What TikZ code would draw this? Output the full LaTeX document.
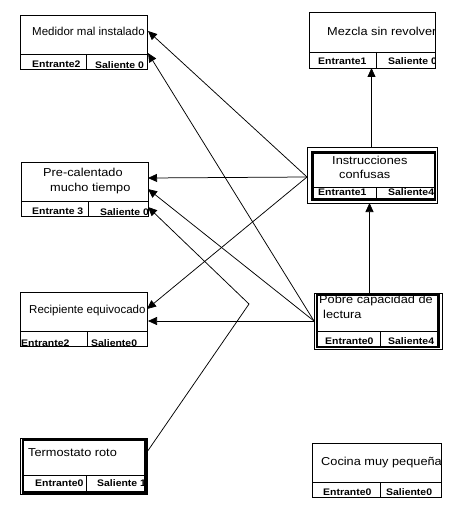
\documentclass[tikz,border=0pt]{standalone}
\usepackage{fontspec}
\setmainfont{Liberation Sans}
\newfontfamily\widefont[FakeStretch=1.11]{Liberation Sans}
\newfontfamily\labfont[FakeStretch=1.1]{Liberation Sans}
\usetikzlibrary{arrows.meta}
\tikzset{
  frame/.style={draw, line width=0.8pt, inner sep=0pt, outer sep=0pt},
  heavy/.style={draw, line width=2.6pt},
  rule/.style={draw, line width=0.8pt},
  txt/.style={anchor=base west, inner sep=0pt, font=\fontsize{11.5}{13}\selectfont},
  wtxt/.style={anchor=base west, inner sep=0pt, font=\widefont\fontsize{11.5}{13}\selectfont},
  lab/.style={anchor=base west, inner sep=0pt, font=\labfont\bfseries\fontsize{9.5}{10}\selectfont},
  link/.style={line width=0.75pt, -{Triangle[length=9pt,width=8pt]}},
}
\begin{document}
\begin{tikzpicture}[x=1pt,y=-1pt]
\useasboundingbox[fill=white] (0,0) rectangle (456,508);

% ---------- Medidor mal instalado ----------
\begin{scope}
\clip (20,15) rectangle (147,69);
\node[txt] (t1) at (32,36) {Medidor mal instalado};
\node[lab] (l1a) at (32,68) {Entrante2};
\node[lab] (l1b) at (95,69) {Saliente 0};
\end{scope}
\node[frame, minimum width=127pt, minimum height=54pt] (med) at (83.5,42) {};
\draw[rule] (20,54) -- (147,54) (86,54) -- (86,69);

% ---------- Mezcla sin revolver ----------
\begin{scope}
\clip (309,12) rectangle (435,68);
\node[wtxt] (t2) at (327,36) {Mezcla sin revolver};
\node[lab] (l2a) at (318,65) {Entrante1};
\node[lab] (l2b) at (388,65) {Saliente 0};
\end{scope}
\node[frame, minimum width=126pt, minimum height=56pt] (mez) at (372,40) {};
\draw[rule] (309,52) -- (435,52) (376,52) -- (376,68);

% ---------- Pre-calentado mucho tiempo ----------
\begin{scope}
\clip (21,162) rectangle (148,216);
\node[wtxt] (t3a) at (43,176) {Pre-calentado};
\node[wtxt] (t3b) at (50,191.5) {mucho tiempo};
\node[lab] (l3a) at (32,214) {Entrante 3};
\node[lab] (l3b) at (100,215) {Saliente 0};
\end{scope}
\node[frame, minimum width=127pt, minimum height=54pt] (pre) at (84.5,189) {};
\draw[rule] (21,201) -- (148,201) (88,201) -- (88,216);

% ---------- Instrucciones confusas ----------
\begin{scope}
\clip (312.5,152.5) rectangle (435,199.5);
\node[wtxt] (t4a) at (332,164.3) {Instrucciones};
\node[wtxt] (t4b) at (339,178.3) {confusas};
\node[lab] (l4a) at (318,195.7) {Entrante1};
\node[lab] (l4b) at (388,195.7) {Saliente4};
\end{scope}
\node[frame, minimum width=130pt, minimum height=56pt] (ins) at (372,175) {};
\draw[heavy] (312.5,152.5) rectangle (435,199.5);
\draw[rule] (312.5,187) -- (435,187) (376,187) -- (376,199.5);

% ---------- Recipiente equivocado ----------
\begin{scope}
\clip (18,292) rectangle (147,346);
\node[txt] (t5) at (29,313.3) {Recipiente equivocado};
\node[lab] (l5a) at (21,346) {Entrante2};
\node[lab] (l5b) at (91,346) {Saliente0};
\end{scope}
\node[frame, minimum width=127pt, minimum height=54pt] (rec) at (83.5,319) {};
\draw[rule] (20,331) -- (147,331) (87,331) -- (87,346);

% ---------- Pobre capacidad de lectura ----------
\begin{scope}
\clip (317,295) rectangle (438.5,347);
\node[wtxt] (t6a) at (319,303.3) {Pobre capacidad de};
\node[wtxt] (t6b) at (323,318.3) {lectura};
\node[lab] (l6a) at (325,344) {Entrante0};
\node[lab] (l6b) at (388,344) {Saliente4};
\end{scope}
\node[frame, minimum width=128pt, minimum height=56pt] (pob) at (378,321) {};
\draw[heavy] (317,295) rectangle (438.5,347);
\draw[rule] (317,331) -- (438.5,331) (380,331) -- (380,347);

% ---------- Termostato roto ----------
\begin{scope}
\clip (23,440) rectangle (145.5,492.5);
\node[wtxt] (t7) at (28,456.7) {Termostato roto};
\node[lab] (l7a) at (35,486.5) {Entrante0};
\node[lab] (l7b) at (97,486) {Saliente 1};
\end{scope}
\node[frame, minimum width=127pt, minimum height=56pt] (ter) at (84,466) {};
\draw[heavy] (23,440) rectangle (145.5,492.5);
\draw[rule] (23,475) -- (148,475) (86,475) -- (86,492.5);

% ---------- Cocina muy pequeña ----------
\begin{scope}
\clip (312,443) rectangle (441,497);
\node[wtxt] (t8) at (321,465) {Cocina muy pequeña};
\node[lab] (l8a) at (323,495) {Entrante0};
\node[lab] (l8b) at (386,495) {Saliente0};
\end{scope}
\node[frame, minimum width=129pt, minimum height=54pt] (coc) at (376.5,470) {};
\draw[rule] (312,482) -- (441,482) (380,482) -- (380,497);

% ---------- ports ----------
\coordinate (insT) at (371.5,147);
\coordinate (mezB) at (371.5,68);
\coordinate (pobT) at (369.5,293);
\coordinate (insB) at (369.5,203);
\coordinate (insL) at (307,177);
\coordinate (pobL) at (314,321);
\coordinate (medA) at (148,31);
\coordinate (medB) at (148,53);
\coordinate (preA) at (148,178);
\coordinate (preB) at (148,189);
\coordinate (preC) at (148,207);
\coordinate (recA) at (147,309);
\coordinate (recB) at (148,321);
\coordinate (terR) at (147,452);
\coordinate (bend) at (249,304);

% ---------- connectors ----------
\draw[link] (insT) -- (mezB);
\draw[link] (pobT) -- (insB);
\draw[link] (insL) -- (medA);
\draw[link] (insL) -- (preA);
\draw[link] (insL) -- (recA);
\draw[link] (pobL) -- (medB);
\draw[link] (pobL) -- (preB);
\draw[link] (pobL) -- (recB);
\draw[link] (terR) -- (bend) -- (preC);
\end{tikzpicture}
\end{document}
